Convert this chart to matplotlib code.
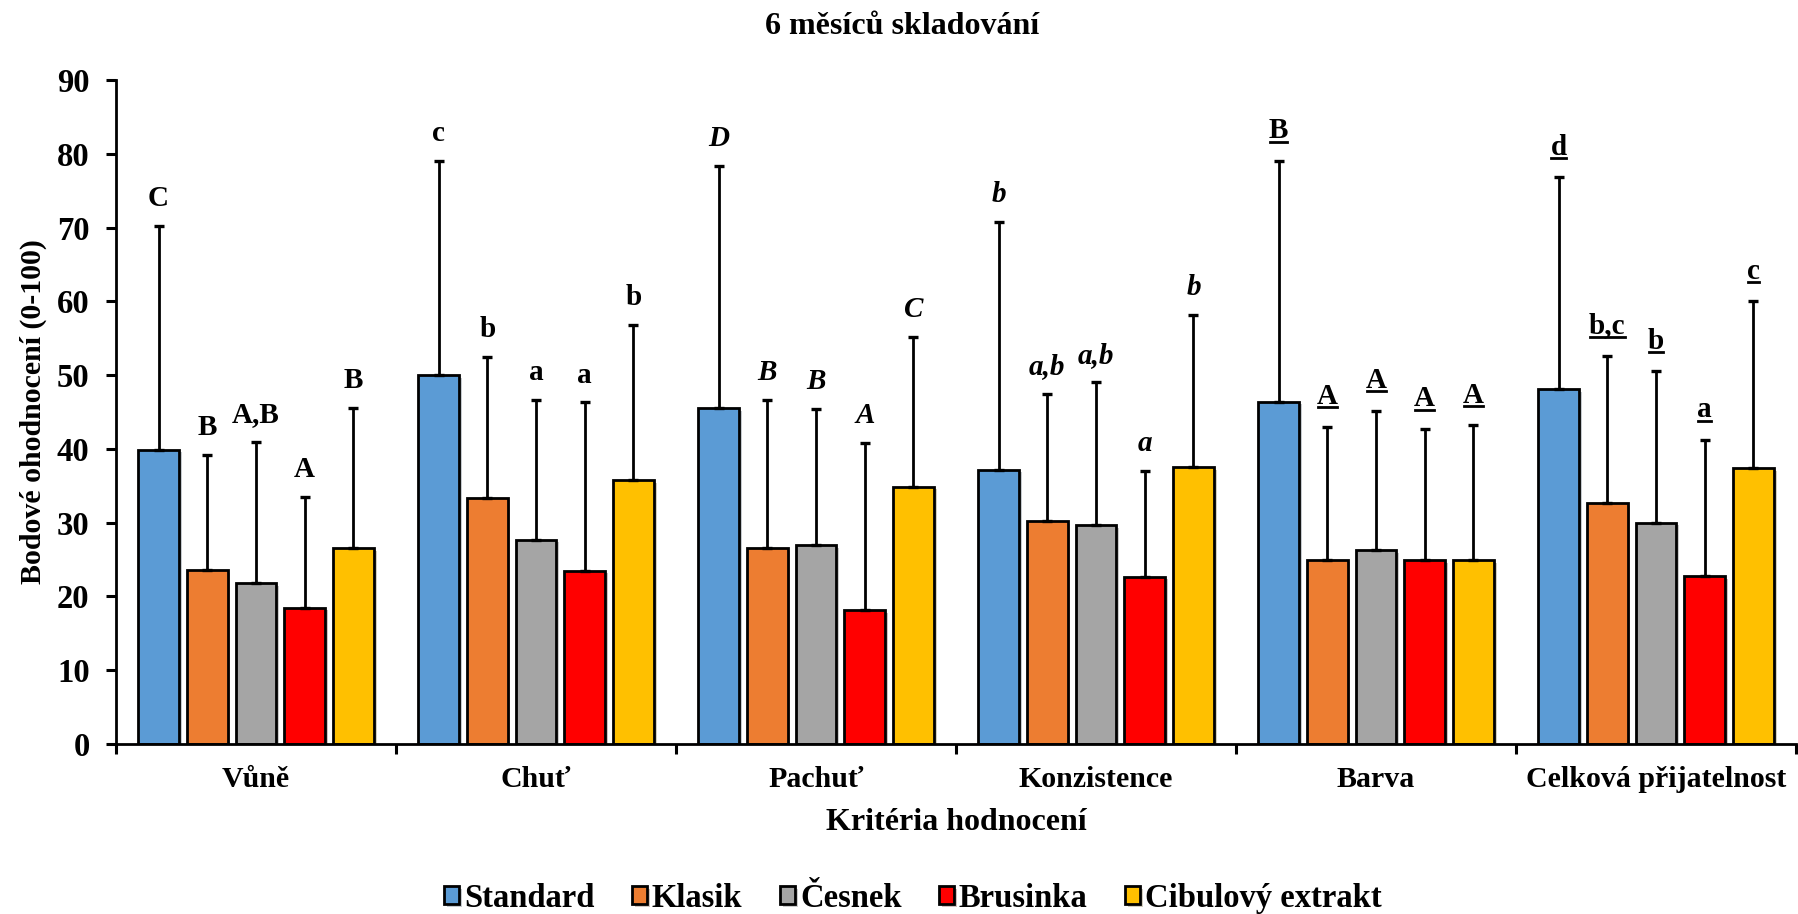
import numpy as np
import matplotlib
matplotlib.use('Agg')
import matplotlib.pyplot as plt
from matplotlib.lines import Line2D
import matplotlib.patheffects as pe

plt.rcParams['font.family'] = ['Liberation Serif', 'DejaVu Serif']
plt.rcParams['font.weight'] = 'bold'

kriteria = ['Vůně', 'Chuť', 'Pachuť', 'Konzistence', 'Barva', 'Celková přijatelnost']
vzorky = ['Standard', 'Klasik', 'Česnek', 'Brusinka', 'Cibulový extrakt']
barvy = ['#5B9BD5', '#ED7D31', '#A5A5A5', '#FF0000', '#FFC000']

# průměry (řádek = vzorek, sloupec = kritérium)
standard = [39.9, 50.0, 45.5, 37.2, 46.4, 48.1]
klasik = [23.6, 33.4, 26.6, 30.2, 25.0, 32.6]
cesnek = [21.8, 27.7, 27.0, 29.7, 26.3, 30.0]
brusinka = [18.5, 23.5, 18.2, 22.7, 24.9, 22.8]
cibule = [26.6, 35.8, 34.9, 37.5, 24.9, 37.4]

# horní konec chybové úsečky
standard_err = [70.2, 79.0, 78.4, 70.8, 79.0, 76.8]
klasik_err = [39.2, 52.5, 46.6, 47.5, 43.0, 52.6]
cesnek_err = [41.0, 46.6, 45.4, 49.0, 45.2, 50.5]
brusinka_err = [33.5, 46.3, 40.8, 37.0, 42.7, 41.2]
cibule_err = [45.6, 56.8, 55.2, 58.1, 43.2, 60.0]

# písmena významnosti
pismena = [
    ['C', 'B', 'A,B', 'A', 'B'],
    ['c', 'b', 'a', 'a', 'b'],
    ['D', 'B', 'B', 'A', 'C'],
    ['b', 'a,b', 'a,b', 'a', 'b'],
    ['B', 'A', 'A', 'A', 'A'],
    ['d', 'b,c', 'b', 'a', 'c'],
]
styl = ['normal', 'normal', 'italic', 'italic', 'under', 'under']

hodnoty = [standard, klasik, cesnek, brusinka, cibule]
chyby = [standard_err, klasik_err, cesnek_err, brusinka_err, cibule_err]

fig = plt.figure(figsize=(17.98, 9.14), dpi=100)
ax = fig.add_axes([116 / 1798, 1 - 744 / 914, 1680 / 1798, 664 / 914])

x = np.arange(len(kriteria))
krok = 0.174
sirka = 0.146
stin = [pe.SimplePatchShadow(offset=(2, -2), alpha=0.25), pe.Normal()]

popisky = []
for i, (h, e) in enumerate(zip(hodnoty, chyby)):
    pos = x + (i - 2) * krok
    h = np.array(h)
    e = np.array(e)
    ax.bar(pos, h, sirka, color=barvy[i], edgecolor='black', linewidth=2,
           label=vzorky[i], zorder=2, path_effects=stin)
    ax.errorbar(pos, h, yerr=[np.zeros_like(h), e - h], fmt='none',
                ecolor='black', elinewidth=2, capsize=3.6, capthick=2.4, zorder=3)
    for j in range(len(kriteria)):
        s = styl[j]
        t = ax.annotate(pismena[j][i], (pos[j], e[j]), xytext=(0, 10 if s != 'under' else 12),
                        textcoords='offset points', ha='center', va='bottom',
                        fontsize=21, fontweight='bold',
                        fontstyle='italic' if s == 'italic' else 'normal')
        if s == 'under':
            popisky.append(t)

ax.set_xlim(-0.5, 5.5)
ax.set_ylim(0, 90)
ax.set_yticks(range(0, 91, 10))
ax.set_xticks(x)
ax.set_xticklabels(kriteria, fontsize=21.5)
ax.set_xticks(np.arange(-0.5, 6, 1), minor=True)
ax.tick_params(axis='x', which='major', length=0, pad=16)
ax.tick_params(axis='x', which='minor', length=7, width=2.2, direction='out')
ax.tick_params(axis='y', length=7, width=2.2, labelsize=23.5, pad=12)

for s in ['top', 'right']:
    ax.spines[s].set_visible(False)
for s in ['left', 'bottom']:
    ax.spines[s].set_linewidth(2)

ax.set_xlabel('Kritéria hodnocení', fontsize=23, fontweight='bold', labelpad=11)
ax.set_ylabel('Bodové ohodnocení (0-100)', fontsize=21.5, fontweight='bold', labelpad=7)
fig.text(0.502, 1 - 27 / 914, '6 měsíců skladování', ha='center', va='center',
         fontsize=23, fontweight='bold')

fig.legend(loc='center', bbox_to_anchor=(0.5078, 0.017), ncol=5, frameon=False,
           fontsize=23.5, handlelength=0.46, handleheight=0.46, handletextpad=0.15,
           columnspacing=1.15)

# podtržení písmen
fig.canvas.draw()
r = fig.canvas.get_renderer()
for t in popisky:
    bb = t.get_window_extent(r)
    y0 = bb.y0 + 0.1 * bb.height
    (fx0, fy), (fx1, _) = fig.transFigure.inverted().transform([(bb.x0 + 1, y0), (bb.x1 - 1, y0)])
    fig.add_artist(Line2D([fx0, fx1], [fy, fy], color='black', linewidth=2))

fig.savefig('out.png', dpi=100)
